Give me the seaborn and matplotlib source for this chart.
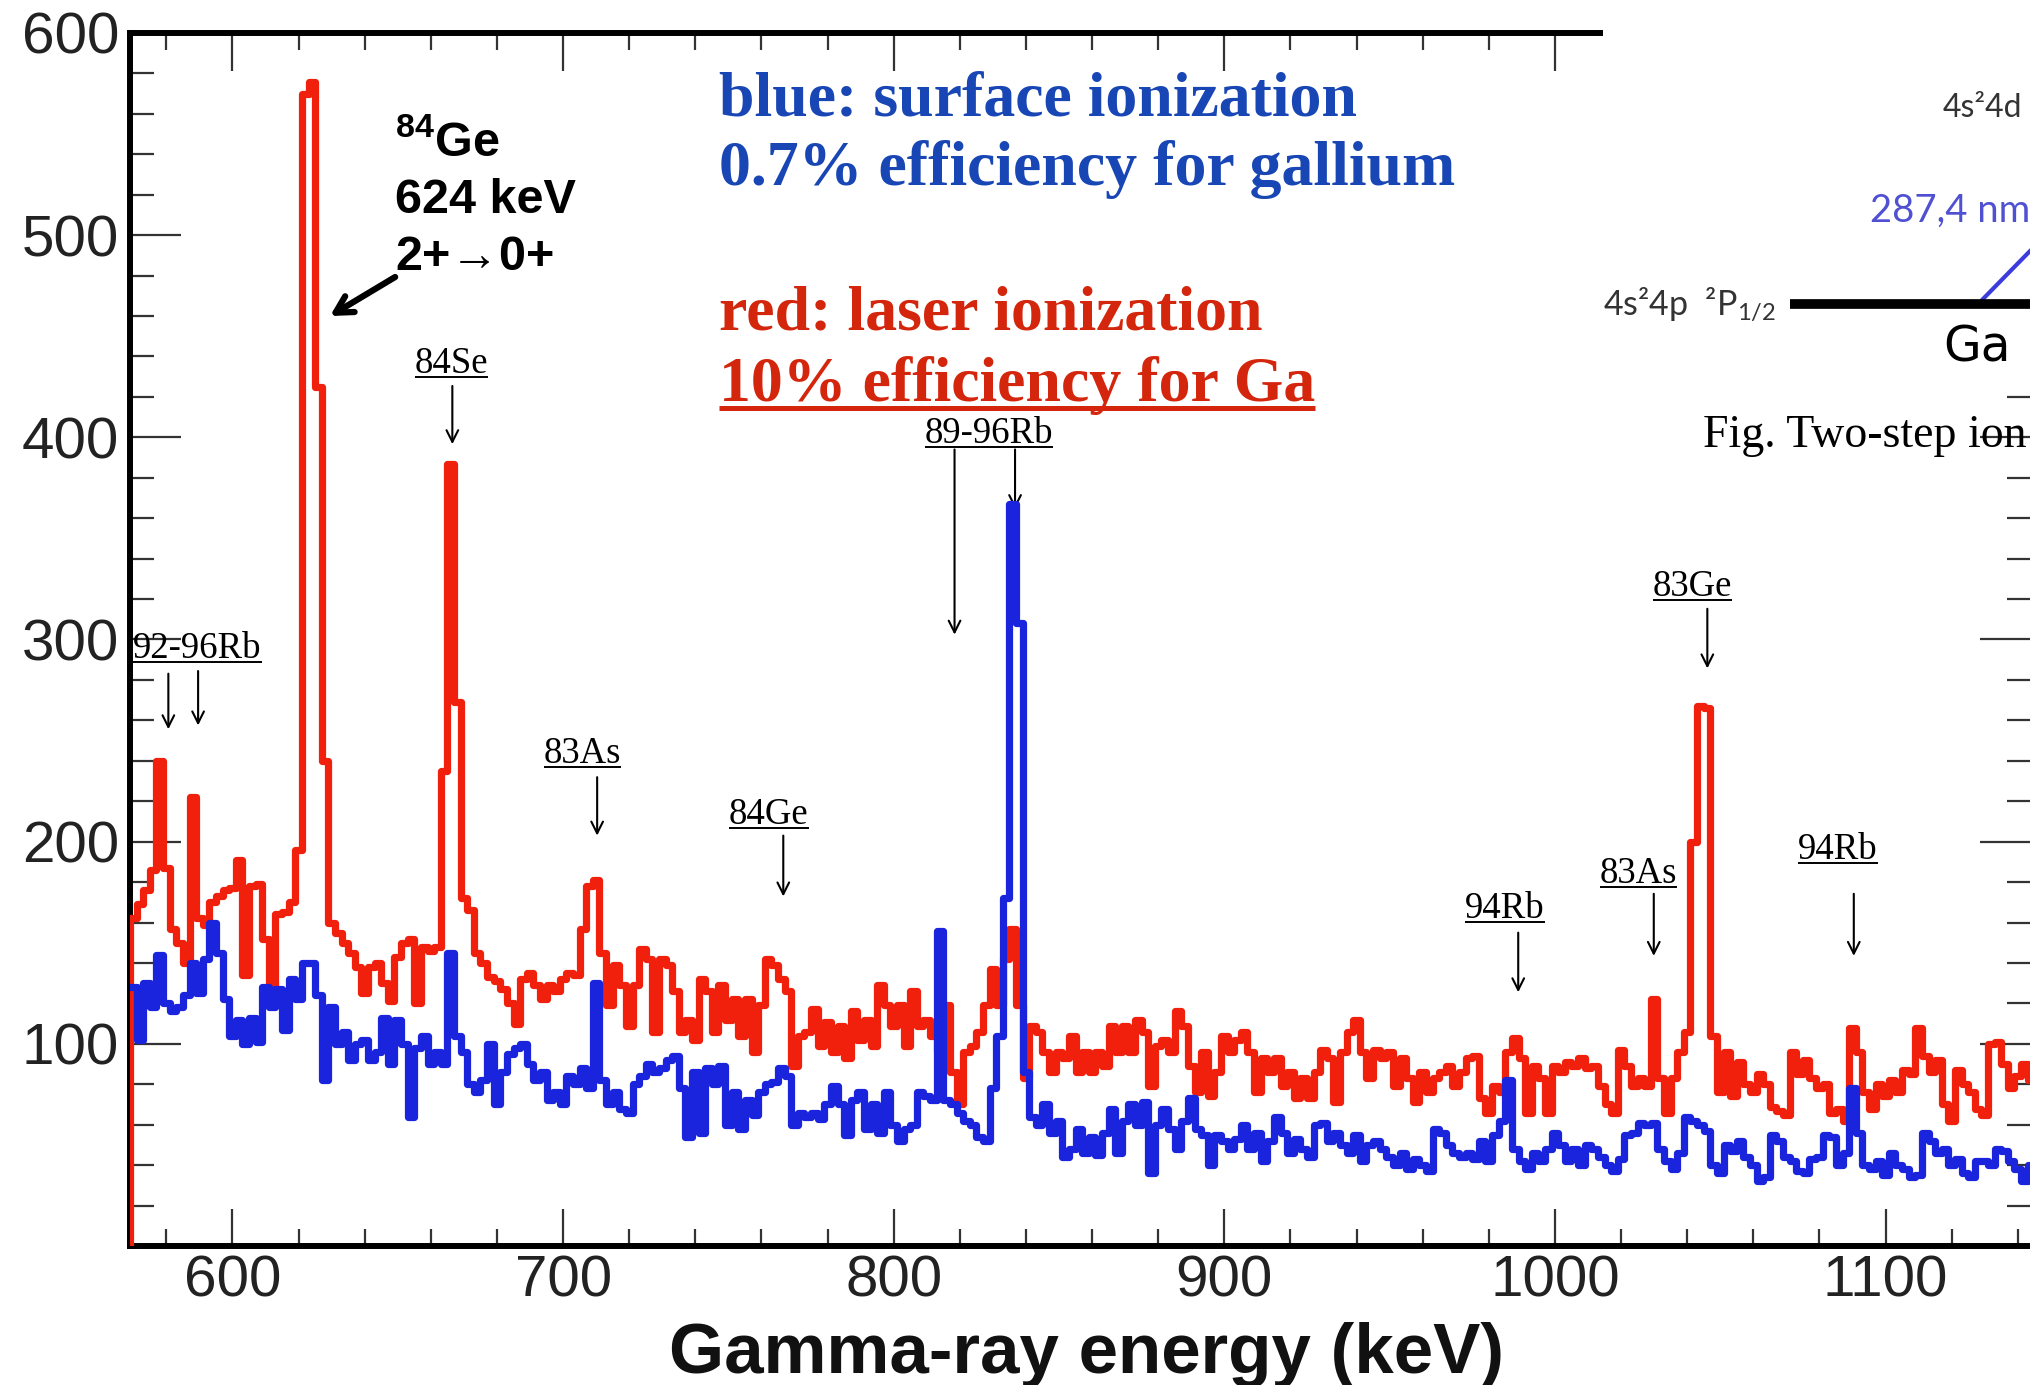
import numpy as np
import matplotlib
matplotlib.use("Agg")
import matplotlib.pyplot as plt
from matplotlib.lines import Line2D
from matplotlib.patches import Rectangle
from matplotlib.ticker import MultipleLocator, FixedLocator
import seaborn as sns

# gamma spectra in 2 keV bins (centre energies); red has an empty bin below threshold
energy_red = np.arange(568, 1146, 2)
energy_blue = np.arange(570, 1146, 2)

red_counts = [
    0,
    162, 169, 176, 186, 240, 187, 157, 150, 140, 222,   # 570
    162, 159, 170, 173, 176, 177, 191, 134, 178, 179,   # 590
    152, 129, 164, 165, 170, 196, 570, 576, 425, 240,   # 610
    160, 155, 150, 145, 138, 125, 138, 140, 130, 121,   # 630
    143, 150, 152, 120, 148, 146, 148, 235, 387, 269,   # 650
    172, 166, 145, 140, 133, 131, 127, 120, 110, 132,   # 670
    135, 129, 122, 129, 126, 132, 135, 134, 157, 178,   # 690
    181, 145, 119, 139, 129, 109, 129, 147, 142, 106,   # 710
    142, 139, 126, 106, 112, 102, 132, 126, 106, 129,   # 730
    112, 122, 104, 122, 96, 119, 142, 139, 132, 126,    # 750
    89, 104, 106, 117, 99, 111, 96, 109, 93, 116,       # 770
    102, 112, 99, 129, 119, 109, 119, 99, 126, 109,     # 790
    112, 104, 96, 119, 86, 70, 96, 99, 106, 119,        # 810
    137, 119, 142, 157, 119, 83, 109, 106, 96, 86,      # 830
    96, 93, 104, 86, 96, 86, 96, 89, 109, 96,           # 850
    109, 96, 112, 106, 79, 99, 102, 96, 116, 109,       # 870
    89, 76, 96, 74, 86, 104, 96, 102, 106, 96,          # 890
    76, 93, 86, 93, 79, 86, 73, 83, 73, 86,             # 910
    97, 93, 71, 96, 106, 112, 96, 83, 97, 93,           # 930
    96, 79, 93, 83, 71, 86, 76, 83, 86, 89,             # 950
    79, 86, 93, 94, 73, 66, 79, 76, 96, 103,            # 970
    93, 66, 89, 83, 66, 89, 86, 91, 89, 93,             # 990
    88, 89, 79, 70, 66, 97, 89, 79, 83, 79,             # 1010
    122, 83, 66, 83, 96, 106, 200, 267, 266, 104,       # 1030
    76, 96, 74, 91, 80, 76, 85, 80, 69, 67,             # 1050
    65, 96, 85, 92, 83, 78, 80, 66, 68, 62,             # 1070
    108, 96, 76, 68, 80, 74, 82, 76, 87, 85,            # 1090
    108, 94, 86, 92, 70, 62, 87, 80, 76, 68,            # 1110
    65, 100, 101, 90, 78, 84, 90, 82,                   # 1130
]

blue_counts = [
    128, 102, 130, 118, 144, 120, 116, 118, 124, 140,   # 570
    125, 142, 160, 145, 122, 104, 112, 100, 113, 101,   # 590
    128, 118, 127, 107, 132, 122, 140, 140, 124, 82,    # 610
    118, 100, 106, 92, 100, 102, 92, 96, 113, 90,       # 630
    112, 100, 64, 98, 104, 90, 96, 90, 145, 104,        # 650
    96, 80, 76, 82, 100, 70, 86, 95, 98, 100,           # 670
    90, 82, 86, 72, 76, 70, 84, 80, 88, 78,             # 690
    130, 82, 70, 76, 68, 66, 80, 84, 90, 86,            # 710
    88, 92, 94, 78, 54, 86, 56, 88, 80, 89,             # 730
    60, 76, 58, 72, 65, 76, 80, 81, 88, 84,             # 750
    60, 66, 64, 66, 63, 70, 79, 70, 55, 72,             # 770
    76, 58, 70, 56, 76, 60, 52, 58, 60, 76,             # 790
    74, 72, 156, 72, 70, 66, 62, 60, 54, 52,            # 810
    78, 104, 172, 367, 308, 86, 64, 60, 70, 56,         # 830
    62, 44, 48, 58, 46, 54, 45, 56, 68, 46,             # 850
    62, 70, 60, 71, 36, 60, 68, 58, 48, 62,             # 870
    73, 58, 55, 40, 55, 52, 48, 53, 60, 48,             # 890
    56, 42, 52, 64, 56, 46, 53, 48, 44, 60,             # 910
    61, 52, 56, 50, 46, 55, 42, 50, 52, 48,             # 930
    44, 40, 46, 38, 43, 40, 37, 58, 56, 50,             # 950
    46, 44, 46, 43, 52, 42, 55, 62, 82, 48,             # 970
    42, 38, 46, 42, 48, 56, 50, 42, 48, 40,             # 990
    50, 48, 44, 40, 37, 43, 55, 56, 61, 60,             # 1010
    61, 48, 42, 38, 46, 64, 62, 60, 57, 40,             # 1030
    36, 50, 47, 52, 44, 40, 32, 34, 55, 52,             # 1050
    44, 42, 37, 36, 43, 44, 55, 54, 40, 46,             # 1070
    78, 56, 40, 38, 42, 35, 46, 40, 38, 34,             # 1090
    35, 56, 52, 46, 48, 40, 43, 36, 34, 42,             # 1110
    42, 40, 48, 47, 42, 38, 32, 40,                     # 1130
]

assert len(red_counts) == len(energy_red)
assert len(blue_counts) == len(energy_blue)

# peak labels (underlined) and their arrows
peak_labels = ["92-96Rb", "84Se", "83As", "84Ge", "89-96Rb", "94Rb", "83As", "83Ge", "94Rb"]
label_kev = [570.0, 655.1, 694.2, 750.2, 809.4, 972.8, 1013.6, 1029.6, 1073.5]
label_cnt = [290.8, 431.8, 238.9, 208.8, 397.2, 162.0, 179.4, 321.6, 191.5]
arrow_kev = [580.6, 589.6, 666.5, 710.3, 766.6, 818.4, 836.7, 988.9, 1029.9, 1046.1, 1090.4]
arrow_top = [283.1, 284.4, 425.4, 231.9, 203.0, 394.0, 394.0, 155.0, 174.2, 315.2, 174.2]
arrow_tip = [255.6, 257.5, 396.6, 203.0, 172.9, 302.4, 364.5, 125.5, 143.5, 285.7, 143.5]

RED = "#f0200c"
BLUE = "#1a24dc"
W, H = 2031, 1385

sns.set_theme(style="ticks")
plt.rcParams.update({
    "font.family": ["Liberation Sans", "DejaVu Sans"],
    "mathtext.fontset": "custom",
    "mathtext.rm": "Lato",
    "mathtext.bf": "Liberation Sans:bold",
})

fig = plt.figure(figsize=(W / 100, H / 100), dpi=100)
fig.patch.set_facecolor("white")
ax = fig.add_axes([130 / W, 1 - 1246 / H, 1901 / W, 1213 / H])
ax.set_facecolor("white")

sns.histplot(x=energy_red, weights=red_counts, bins=list(np.arange(567, 1147, 2)),
             element="step", fill=False, color=RED, linewidth=5.2, zorder=3, ax=ax)
sns.histplot(x=energy_blue, weights=blue_counts, bins=list(np.arange(569, 1147, 2)),
             element="step", fill=False, color=BLUE, linewidth=5.2, zorder=3.2, ax=ax)

ax.set_xlim(569, 1144)
ax.set_ylim(0, 600)
ax.set_ylabel("")
ax.xaxis.set_major_locator(MultipleLocator(100))
ax.xaxis.set_minor_locator(MultipleLocator(20))
ax.yaxis.set_major_locator(FixedLocator([100, 200, 300, 400, 500, 600]))
ax.yaxis.set_minor_locator(MultipleLocator(20))
ax.tick_params(axis="x", which="major", direction="in", length=27, width=1.6,
               top=True, bottom=True, labelsize=42, pad=6, colors="#333", labelcolor="#222")
ax.tick_params(axis="x", which="minor", direction="in", length=12, width=1.6,
               top=True, bottom=True, colors="#333")
ax.tick_params(axis="y", which="major", direction="in", length=37, width=1.6,
               left=True, right=True, labelsize=42, pad=8, colors="#333", labelcolor="#222")
ax.tick_params(axis="y", which="minor", direction="in", length=17, width=1.6,
               left=True, right=True, colors="#333")
for side in ["left", "bottom", "top"]:
    ax.spines[side].set_linewidth(4.3)
    ax.spines[side].set_color("black")
ax.spines["right"].set_visible(False)

ax.set_xlabel("Gamma-ray energy (keV)", fontsize=51, fontweight="bold",
              color="#111", labelpad=10)
ax.xaxis.label.set_x(0.5033)

# peak labels with arrows
label_texts = []
for name, kx, ky in zip(peak_labels, label_kev, label_cnt):
    t = ax.text(kx, ky, name, family="Liberation Serif", fontsize=26.5,
                color="black", ha="left", va="baseline", zorder=5)
    label_texts.append(t)
for kx, y0, y1 in zip(arrow_kev, arrow_top, arrow_tip):
    ax.annotate("", xy=(kx, y1), xytext=(kx, y0),
                arrowprops=dict(arrowstyle="->,head_length=0.7,head_width=0.35",
                                lw=1.5, color="black", shrinkA=0, shrinkB=0))

# 84Ge main line annotation
ann_kw = dict(fontsize=35, fontweight="bold", color="black", ha="left", va="baseline")
ax.text(649.2, 538.7, r"$^{\mathbf{84}}$Ge", **ann_kw)
ax.text(649.2, 510.9, "624 keV", **ann_kw)
ax.text(649.2, 482.8, "2+\u21920+", **ann_kw)
ax.annotate("", xy=(629.5, 460.0), xytext=(649.2, 479.3),
            arrowprops=dict(arrowstyle="->,head_length=1.0,head_width=0.55",
                            lw=4.5, color="black", shrinkA=0, shrinkB=0))

# legend-like description
desc_kw = dict(family="Liberation Serif", fontsize=46, fontweight="bold",
               ha="left", va="baseline")
fig.text(719 / W, 1 - 115 / H, "blue: surface ionization", color="#1846b4", **desc_kw)
fig.text(719 / W, 1 - 185 / H, "0.7% efficiency for gallium", color="#1846b4", **desc_kw)
fig.text(719 / W, 1 - 330 / H, "red: laser ionization", color="#d4260c", **desc_kw)
ga_text = fig.text(719 / W, 1 - 401 / H, "10% efficiency for Ga", color="#d4260c", **desc_kw)

# overlapping level-scheme snippet in the top right corner
fig.add_artist(Rectangle((1603 / W, 1 - 385 / H), 428 / W, 385 / H,
                         transform=fig.transFigure, facecolor="white",
                         edgecolor="none", zorder=10))
fig.text(1943 / W, 1 - 117 / H, "4s²4d", family="Lato", fontsize=23,
         color="#333", va="baseline", zorder=11)
fig.text(1870 / W, 1 - 222 / H, "287,4 nm", family="Lato", fontsize=27.5,
         color="#5050d2", va="baseline", zorder=11)
fig.add_artist(Line2D([1982 / W, 2080 / W], [1 - 300 / H, 1 - 200 / H],
                      transform=fig.transFigure, color="#3c3cdc", lw=3, zorder=11))
fig.add_artist(Line2D([1790 / W, 1.0], [1 - 304 / H, 1 - 304 / H],
                      transform=fig.transFigure, color="black", lw=7,
                      solid_capstyle="butt", zorder=11))
fig.text(1603 / W, 1 - 315 / H, "4s²4p  ²P$_{\\mathrm{1/2}}$", family="Lato",
         fontsize=24.5, color="#333", va="baseline", zorder=11)
fig.text(1943 / W, 1 - 362 / H, "Ga", family="DejaVu Sans", fontsize=35,
         color="black", va="baseline", zorder=11)
fig.text(1703 / W, 1 - 447 / H, "Fig. Two-step ion", family="Liberation Serif",
         fontsize=33, color="black", va="baseline", zorder=11)


def underline(txt, offset_px, lw, color):
    renderer = fig.canvas.get_renderer()
    bb = txt.get_window_extent(renderer)
    _, ybase = txt.get_transform().transform(txt.get_position())
    inv = fig.transFigure.inverted()
    (x0, y0), (x1, _) = inv.transform([(bb.x0, ybase - offset_px), (bb.x1, ybase - offset_px)])
    fig.add_artist(Line2D([x0, x1], [y0, y0], transform=fig.transFigure,
                          color=color, lw=lw, solid_capstyle="butt", zorder=6))


fig.canvas.draw()
for t in label_texts:
    underline(t, 4, 1.4, "black")
underline(ga_text, 7, 3.6, "#d4260c")

fig.savefig("out.png", dpi=100, facecolor="white")
